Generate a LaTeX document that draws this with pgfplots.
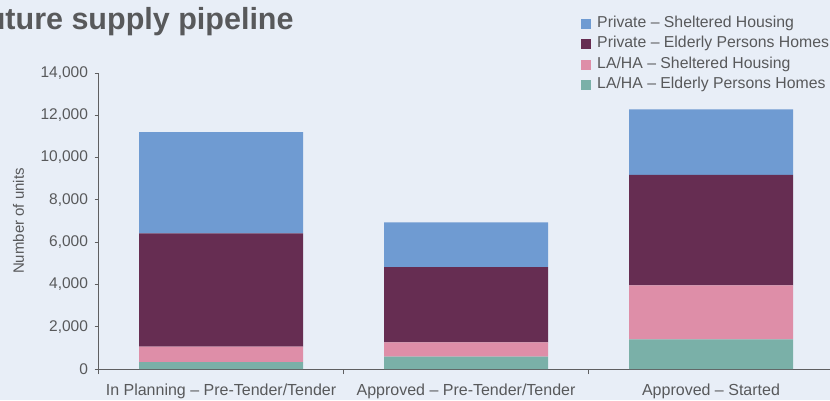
\documentclass[border=0pt]{standalone}
\usepackage{pgfplots}
\pgfplotsset{compat=1.18}
\usepackage{fontspec}
\setmainfont{Liberation Sans}
\definecolor{bg}{RGB}{232,238,247}
\definecolor{cblue}{RGB}{111,155,210}
\definecolor{cpurple}{RGB}{102,45,82}
\definecolor{cpink}{RGB}{222,142,168}
\definecolor{cteal}{RGB}{122,176,168}
\definecolor{txt}{RGB}{88,89,91}
\definecolor{axc}{RGB}{95,95,97}
\begin{document}
\begin{tikzpicture}[x=1pt,y=1pt]
\fill[bg] (0,0) rectangle (830,400);
\useasboundingbox (0,0) rectangle (830,400);
\node[anchor=base west, inner sep=0pt, text=txt, font=\fontsize{30.5}{36}\selectfont\bfseries] at (-32,370.5) {Future supply pipeline};
\begin{axis}[
  at={(98.5pt,31pt)}, anchor=south west,
  scale only axis, width=735pt, height=296pt,
  xmin=-0.5, xmax=2.5, ymin=0, ymax=14000,
  ybar stacked, bar width=164pt,
  axis lines=left, axis line style={-, draw=axc, line width=1pt},
  clip=false,
  xtick={0,1,2},
  xticklabels={In Planning – Pre-Tender/Tender, Approved – Pre-Tender/Tender, Approved – Started},
  major x tick style={draw=none},
  minor xtick={-0.5,0.5,1.5,2.5},
  minor tick length=5pt,
  ytick={0,2000,...,14000},
  tick align=outside, major tick length=4pt,
  tick style={draw=axc, line width=0.8pt},
  scaled y ticks=false,
  /pgf/number format/1000 sep={,},
  /pgf/number format/assume math mode=true,
  xticklabel style={font=\fontsize{16}{19}\selectfont, text=txt, yshift=-7pt},
  yticklabel style={font=\fontsize{15.5}{18}\selectfont, text=txt, xshift=-3pt},
  ylabel={Number of units},
  ylabel style={font=\fontsize{15}{18}\selectfont, text=txt, at={(axis description cs:-0.109,0.5)}, anchor=center},
  reverse legend,
  legend image code/.code={\fill[#1,draw=none] (0pt,-5pt) rectangle (10pt,5pt);},
  legend style={at={(axis description cs:0.6565,1.19)}, anchor=north west, draw=none, fill=none,
    inner sep=0pt, column sep=6pt, row sep=6.3pt,
    nodes={inner sep=0pt, text height=10.5pt, text depth=3.5pt, font=\fontsize{15.8}{18}\selectfont, text=txt}},
  legend cell align=left,
]
\addplot[fill=cteal, draw=none] coordinates {(0,320) (1,580) (2,1400)};
\addplot[fill=cpink, draw=none] coordinates {(0,740) (1,680) (2,2560)};
\addplot[fill=cpurple, draw=none] coordinates {(0,5360) (1,3560) (2,5220)};
\addplot[fill=cblue, draw=none] coordinates {(0,4780) (1,2120) (2,3100)};
\legend{LA/HA – Elderly Persons Homes, LA/HA – Sheltered Housing, Private – Elderly Persons Homes, Private – Sheltered Housing}
\end{axis}
\end{tikzpicture}
\end{document}
